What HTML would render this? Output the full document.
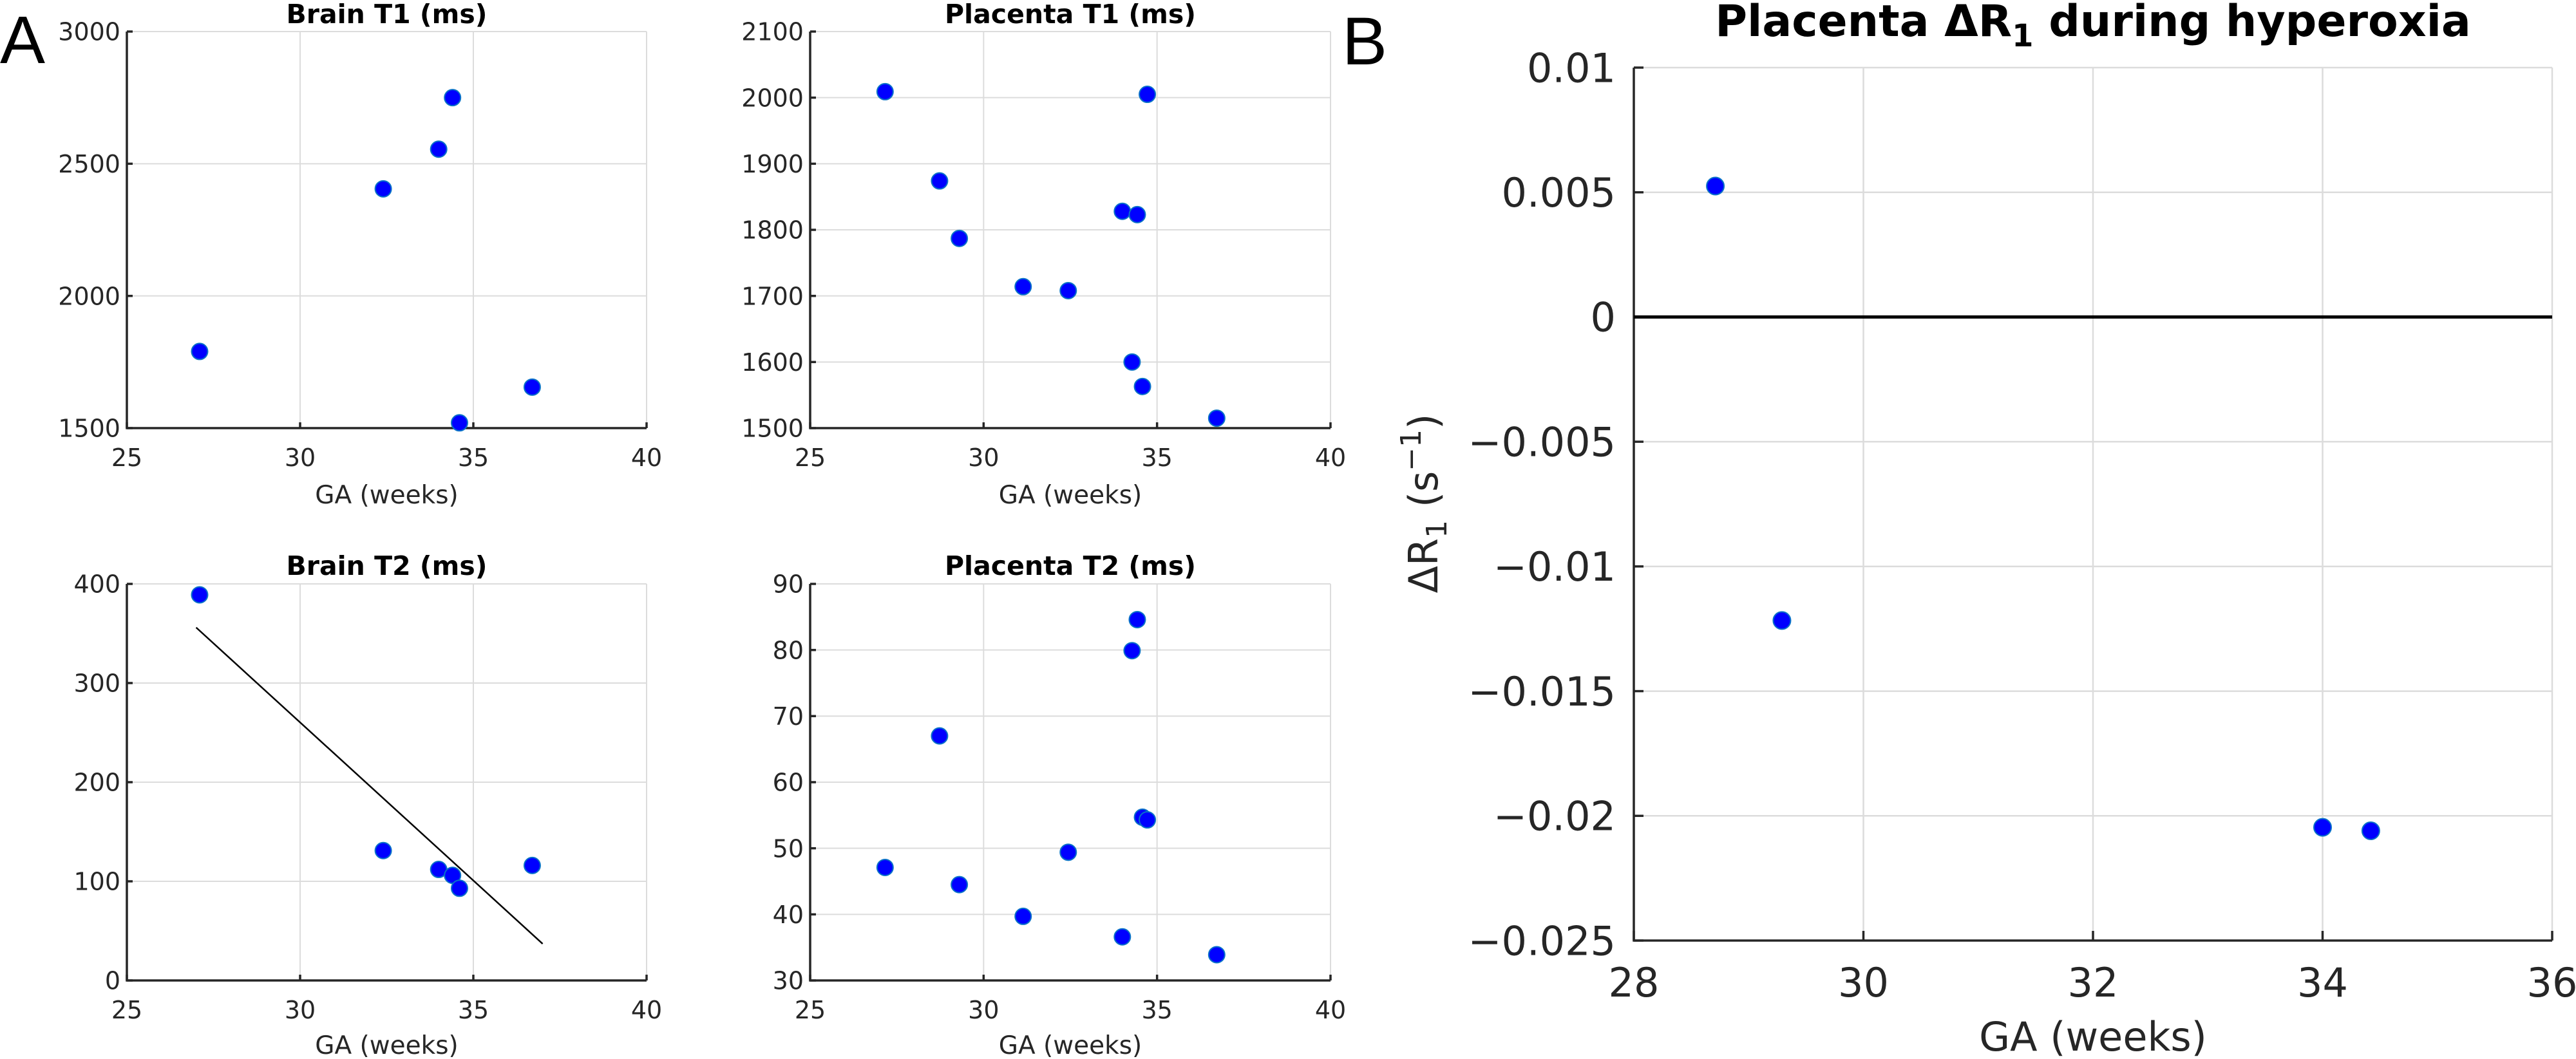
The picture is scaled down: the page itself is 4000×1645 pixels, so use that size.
<!DOCTYPE html>
<html><head><meta charset="utf-8"><style>
html,body{margin:0;padding:0;background:#fff;}
svg{display:block;font-family:"DejaVu Sans","Liberation Sans",sans-serif;}
</style></head><body>
<svg id="fig" width="4000" height="1645" viewBox="0 0 4000 1645" xmlns="http://www.w3.org/2000/svg">
<text x="0" y="98" font-size="105" font-family="Liberation Sans, sans-serif" fill="#000">A</text>
<text x="2084" y="100" font-size="105" font-family="Liberation Sans, sans-serif" fill="#000">B</text>
</svg>
<script>
const gaBrain = [27.1, 32.4, 34.0, 34.4, 34.6, 36.7];
const brainT1 = [1790, 2405, 2555, 2750, 1520, 1655];
const brainT2 = [389, 131, 112, 106, 93, 116];
const brainT2FitX = [27.0, 37.0];
const brainT2FitY = [356, 37];
const gaPlacenta = [27.16, 28.73, 29.3, 31.14, 32.44, 34.0, 34.43, 34.28, 34.58, 34.72, 36.72];
const placentaT1 = [2009, 1874, 1787, 1714, 1708, 1828, 1823, 1600, 1563, 2005, 1515];
const gaPlacentaT2 = [27.16, 28.73, 29.3, 31.14, 32.44, 34.0, 34.28, 34.43, 34.58, 34.72, 36.72];
const placentaT2 = [47.1, 67.0, 44.5, 39.7, 49.4, 36.6, 79.9, 84.6, 54.7, 54.3, 33.9];
const gaHyper = [28.71, 29.29, 34.0, 34.42];
const deltaR1 = [0.00525, -0.01217, -0.02046, -0.0206];
const xTicksA = [25, 30, 35, 40];
const yTicksBrainT1 = [1500, 2000, 2500, 3000];
const yTicksBrainT2 = [0, 100, 200, 300, 400];
const yTicksPlacT1 = [1500, 1600, 1700, 1800, 1900, 2000, 2100];
const yTicksPlacT2 = [30, 40, 50, 60, 70, 80, 90];
const xTicksB = [28, 30, 32, 34, 36];
const yTicksB = [0.01, 0.005, 0, -0.005, -0.01, -0.015, -0.02, -0.025];
const yTickLabelsB = ["0.01", "0.005", "0", "\u22120.005", "\u22120.01", "\u22120.015", "\u22120.02", "\u22120.025"];

const NS = "http://www.w3.org/2000/svg";
const svg = document.getElementById("fig");
function mk(tag, attrs, parent) {
  const e = document.createElementNS(NS, tag);
  for (const k in attrs) e.setAttribute(k, attrs[k]);
  (parent || svg).appendChild(e);
  return e;
}

function panel(o) {
  const g = mk("g", {});
  
  
  const sx = v => o.l + (v - o.xmin) / (o.xmax - o.xmin) * (o.r - o.l);
  const sy = v => o.b - (v - o.ymin) / (o.ymax - o.ymin) * (o.b - o.t);
  o.xt.forEach(v => {
    const ln = mk("line", {x1: sx(v), x2: sx(v), y1: o.t, y2: o.b, stroke: "#dcdcdc", "stroke-width": o.gw}, g);
    
    
  });
  o.yt.forEach(v => {
    const ln = mk("line", {x1: o.l, x2: o.r, y1: sy(v), y2: sy(v), stroke: "#dcdcdc", "stroke-width": o.gw}, g);
    
    
  });
  const ax = mk("path", {d: `M${o.l},${o.t}V${o.b}H${o.r}`, fill: "none", stroke: "#262626", "stroke-width": o.aw}, g);
  
  
  o.xt.forEach(v => {
    mk("line", {x1: sx(v), x2: sx(v), y1: o.b, y2: o.b - o.tl, stroke: "#262626", "stroke-width": o.aw}, g);
    const t = mk("text", {x: sx(v), y: o.xty, "text-anchor": "middle", "font-size": o.fs, fill: "#262626"}, g);
    t.textContent = v;
    
    
  });
  o.yt.forEach((v, i) => {
    mk("line", {x1: o.l, x2: o.l + o.tl, y1: sy(v), y2: sy(v), stroke: "#262626", "stroke-width": o.aw}, g);
    const t = mk("text", {x: o.l - o.yto, y: sy(v) + o.fs * 0.36, "text-anchor": "end", "font-size": o.fs, fill: "#262626"}, g);
    t.textContent = o.ytl ? o.ytl[i] : v;
    
    
  });
  if (o.zero) {
    const z = mk("line", {x1: o.l, x2: o.r, y1: sy(0), y2: sy(0), stroke: "#000", "stroke-width": 5}, g);
    
    
  }
  if (o.fitX) {
    const f = mk("line", {x1: sx(o.fitX[0]), y1: sy(o.fitY[0]), x2: sx(o.fitX[1]), y2: sy(o.fitY[1]), stroke: "#000", "stroke-width": 2.5}, g);
    
    
  }
  o.xs.forEach((x, i) => {
    const c = mk("circle", {cx: sx(x), cy: sy(o.ys[i]), r: o.mr, fill: "#0000ff", stroke: "#0a72c8", "stroke-width": 2}, g);
    
    
  });
  const ti = mk("text", {x: (o.l + o.r) / 2, y: o.tty, "text-anchor": "middle", "font-size": o.tfs, "font-weight": "bold", fill: "#000"}, g);
  ti.innerHTML = o.title;
  
  
  const xl = mk("text", {x: (o.l + o.r) / 2, y: o.xly, "text-anchor": "middle", "font-size": o.xlfs, fill: "#262626"}, g);
  xl.textContent = "GA (weeks)";
  
  
}

const baseA = {xmin: 25, xmax: 40, xt: xTicksA, gw: 2, aw: 3.5, tl: 9, fs: 38, yto: 10, mr: 12.5, tfs: 41, xlfs: 39};
panel(Object.assign({}, baseA, {name: "brain-t1-panel", l: 197, r: 1004, t: 49, b: 665, ymin: 1500, ymax: 3000, yt: yTicksBrainT1, xs: gaBrain, ys: brainT1, title: "Brain T1 (ms)", tty: 36, xty: 724, xly: 782}));
panel(Object.assign({}, baseA, {name: "brain-t2-panel", l: 197, r: 1004, t: 907, b: 1523, ymin: 0, ymax: 400, yt: yTicksBrainT2, xs: gaBrain, ys: brainT2, fitX: brainT2FitX, fitY: brainT2FitY, title: "Brain T2 (ms)", tty: 893, xty: 1582, xly: 1637}));
panel(Object.assign({}, baseA, {name: "placenta-t1-panel", l: 1258, r: 2066, t: 49, b: 665, ymin: 1500, ymax: 2100, yt: yTicksPlacT1, xs: gaPlacenta, ys: placentaT1, title: "Placenta T1 (ms)", tty: 36, xty: 724, xly: 782}));
panel(Object.assign({}, baseA, {name: "placenta-t2-panel", l: 1258, r: 2066, t: 907, b: 1523, ymin: 30, ymax: 90, yt: yTicksPlacT2, xs: gaPlacentaT2, ys: placentaT2, title: "Placenta T2 (ms)", tty: 893, xty: 1582, xly: 1637}));
panel({name: "hyperoxia-panel", l: 2537, r: 3963, t: 105, b: 1461, xmin: 28, xmax: 36, ymin: -0.025, ymax: 0.01, xt: xTicksB, yt: yTicksB, ytl: yTickLabelsB, gw: 2.5, aw: 3.5, tl: 15, fs: 62, yto: 28, mr: 13.5, tfs: 68, xlfs: 62, xs: gaHyper, ys: deltaR1, zero: true, title: 'Placenta \u0394R<tspan font-size="48" dy="16">1</tspan><tspan dy="-16"> during hyperoxia</tspan>', tty: 56, xty: 1548, xly: 1632});

const yl = mk("text", {x: 0, y: 0, "text-anchor": "middle", "font-size": 62, fill: "#262626", transform: "translate(2232,782) rotate(-90)"});
yl.innerHTML = '\u0394R<tspan font-size="44" dy="14">1</tspan><tspan dy="-14"> (s</tspan><tspan font-size="44" dy="-26">\u22121</tspan><tspan dy="26">)</tspan>';


</script>
</body></html>
